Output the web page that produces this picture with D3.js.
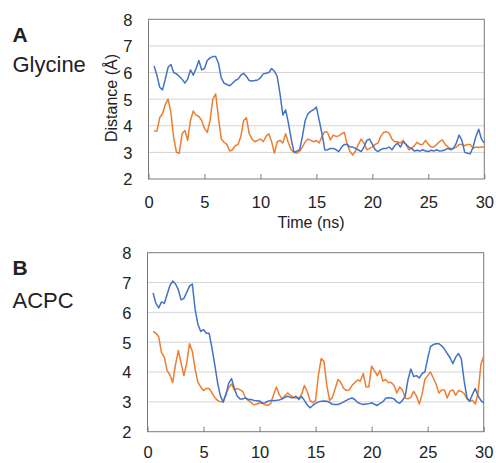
<!DOCTYPE html>
<html>
<head>
<meta charset="utf-8">
<script src="https://cdn.jsdelivr.net/npm/d3@7"></script>
<style>
  body { margin: 0; background: #fff; }
  svg { display: block; }
  text { font-family: "Liberation Sans", Arial, sans-serif; fill: #222; }
</style>
</head>
<body>
<div id="chart"></div>
<script>
// time axis, one sample every 0.25 ns
const timeNs = [0.5, 0.75,
  1, 1.25, 1.5, 1.75, 2, 2.25, 2.5, 2.75, 3, 3.25, 3.5, 3.75, 4, 4.25, 4.5, 4.75,
  5, 5.25, 5.5, 5.75, 6, 6.25, 6.5, 6.75, 7, 7.25, 7.5, 7.75, 8, 8.25, 8.5, 8.75,
  9, 9.25, 9.5, 9.75, 10, 10.25, 10.5, 10.75, 11, 11.25, 11.5, 11.75, 12, 12.25, 12.5, 12.75,
  13, 13.25, 13.5, 13.75, 14, 14.25, 14.5, 14.75, 15, 15.25, 15.5, 15.75, 16, 16.25, 16.5, 16.75,
  17, 17.25, 17.5, 17.75, 18, 18.25, 18.5, 18.75, 19, 19.25, 19.5, 19.75, 20, 20.25, 20.5, 20.75,
  21, 21.25, 21.5, 21.75, 22, 22.25, 22.5, 22.75, 23, 23.25, 23.5, 23.75, 24, 24.25, 24.5, 24.75,
  25, 25.25, 25.5, 25.75, 26, 26.25, 26.5, 26.75, 27, 27.25, 27.5, 27.75, 28, 28.25, 28.5, 28.75,
  29, 29.25, 29.5, 29.75, 30];

// panel A - glycine
const glycineBlue = [6.25, 5.9,
  5.45, 5.35, 5.75, 6.2,   6.3, 6.0, 5.95, 5.85,   5.75, 5.6, 5.75, 6.1,   5.9, 6.15, 6.45, 6.1,
  6.15, 6.45, 6.55, 6.6,   6.6, 6.35, 5.8, 5.6,    5.55, 5.5, 5.6, 5.7,    5.75, 5.9, 5.97, 5.85,
  5.7, 5.68, 5.7, 5.72,    5.8, 5.95, 5.97, 6.0,   6.15, 6.05, 5.85, 5.2,  4.4, 4.6, 4.1, 3.5,
  3.0, 3.05, 3.1, 3.6,     4.2, 4.45, 4.55, 4.6,   4.7, 4.2, 3.7, 3.09,    3.1, 3.15, 3.15, 3.1,
  3.03, 3.2, 3.3, 3.3,     3.2, 3.2, 3.15, 3.09,   3.03, 3.2, 3.45, 3.5,   3.3, 3.1, 3.03, 3.1,
  3.15, 3.15, 3.2, 3.1,    3.25, 3.35, 3.2, 3.4,   3.3, 3.2, 3.15, 3.05,   3.08, 3.05, 3.1, 3.05,
  3.03, 3.08, 3.05, 3.1,   3.05, 3.06, 3.1, 3.15,  3.1, 3.15, 3.35, 3.65,  3.45, 3.0, 2.97, 2.95,
  3.2, 3.6, 3.87, 3.5,     3.35];
const glycineOrange = [3.8, 3.8,
  4.3, 4.45, 4.8, 5.0,     4.5, 3.55, 3.0, 2.97,   3.7, 3.82, 3.45, 4.2,   4.55, 4.4, 4.35, 4.2,
  3.9, 3.75, 4.2, 5.0,     5.2, 4.3, 3.5, 3.38,    3.3, 3.05, 3.1, 3.25,   3.3, 3.6, 4.2, 4.3,
  3.7, 3.5, 3.4, 3.45,     3.5, 3.4, 3.6, 3.7,     3.4, 2.97, 3.4, 3.45,   3.35, 3.7, 3.35, 3.1,
  3.0, 2.97, 3.05, 3.2,    3.4, 3.5, 3.45, 3.4,    3.45, 3.35, 3.6, 3.78,  3.75, 3.47, 3.65, 3.6,
  3.62, 3.7, 3.75, 3.3,    3.03, 2.9, 3.05, 3.3,   3.5, 3.35, 3.1, 3.15,   3.2, 3.3, 3.35, 3.6,
  3.75, 3.78, 3.72, 3.5,   3.4, 3.4, 3.35, 3.45,   3.3, 3.1, 3.15, 3.25,   3.38, 3.3, 3.3, 3.45,
  3.3, 3.2, 3.2, 3.3,      3.4, 3.47, 3.3, 3.2,    3.15, 3.15, 3.2, 3.3,   3.3, 3.25, 3.3, 3.3,
  3.15, 3.2, 3.18, 3.2,    3.2];

// panel B - ACPC
const acpcBlue = [6.65, 6.3,
  6.15, 6.35, 6.3, 6.6,    6.9, 7.05, 6.95, 6.76,  6.42, 6.47, 6.67, 6.88, 6.95, 6.1, 5.6, 5.36,
  5.42, 5.3, 5.3, 4.8,     4.25, 3.65, 3.2, 2.99,  3.24, 3.63, 3.78, 3.45, 3.2, 3.1, 3.1, 3.13,
  3.08, 3.08, 3.05, 3.04,  3.03, 2.96, 2.97, 3.02, 3.05, 3.04, 3.05, 3.06, 3.1, 3.15, 3.19, 3.15,
  3.14, 3.19, 3.08, 3.18,  3.05, 2.9, 2.8, 2.88,   2.95, 3.0, 3.02, 3.03,  3.02, 2.98, 2.92, 2.91,
  2.91, 2.95, 3.0, 3.05,   3.1, 3.13, 3.08, 2.98,  2.94, 2.91, 2.93, 2.94, 2.97, 2.92, 2.88, 2.95,
  3.0, 3.12, 3.14, 3.13,   3.1, 3.0, 2.95, 3.05,   3.2, 3.75, 4.1, 3.85,   3.88, 3.8, 3.95, 4.0,
  4.45, 4.85, 4.92, 4.95,  4.95, 4.88, 4.77, 4.62, 4.48, 4.28, 4.5, 4.62, 4.45, 3.72, 3.15, 3.02,
  3.25, 3.45, 3.2, 3.05,   2.96];
const acpcOrange = [5.36, 5.3,
  5.18, 4.65, 4.5, 4.05,   3.9, 3.65, 4.25, 4.72,  4.3, 3.88, 4.3, 4.95,   4.7, 4.1, 3.65, 3.5,
  3.38, 3.45, 3.45, 3.3,   3.15, 3.05, 3.0, 3.0,   3.28, 3.47, 3.6, 3.4,   3.45, 3.4, 3.35, 3.13,
  3.05, 2.98, 2.9, 2.93,   2.97, 2.95, 2.9, 2.88,  2.95, 3.24, 3.5, 3.25,  3.1, 3.2, 3.3, 3.22,
  3.15, 3.13, 3.14, 3.25,  3.55, 3.35, 3.05, 2.97, 3.05, 3.9, 4.45, 4.35,  3.55, 3.05, 3.15, 3.45,
  3.75, 3.65, 3.45, 3.38,  3.4, 3.55, 3.65, 3.73,  3.7, 3.95, 3.5, 3.5,    4.2, 4.05, 3.88, 4.05,
  3.7, 3.75, 3.65, 3.65,   3.55, 3.3, 3.5, 3.4,    3.13, 3.1, 3.15, 3.35,  3.2, 2.93, 3.25, 3.75,
  3.88, 4.0, 3.8, 3.6,     3.3, 3.4, 3.4, 3.13,    3.36, 3.4, 3.22, 3.38,  3.35, 3.28, 3.1, 3.02,
  3.05, 2.93, 3.3, 4.25,   4.53];

const yTicks = [2, 3, 4, 5, 6, 7, 8];
const xTicks = [0, 5, 10, 15, 20, 25, 30];

const blueColor = "#4472c4";
const orangeColor = "#ed7d31";

const width = 496, height = 463;

const svg = d3.select("#chart")
    .append("svg")
    .attr("width", width)
    .attr("height", height);

const panels = [
    { letter: "A", name: "Glycine", blue: glycineBlue, orange: glycineOrange,
      left: 148.5, right: 484.3, top: 19.3, bottom: 179, letterY: 41.7, nameY: 71.7, xPad: 17.5, axisTitles: true },
    { letter: "B", name: "ACPC", blue: acpcBlue, orange: acpcOrange,
      left: 147.5, right: 483.7, top: 252.7, bottom: 431.7, letterY: 275, nameY: 308.3, xPad: 15, axisTitles: false }
];

function drawPanel(p) {
    const x = d3.scaleLinear().domain([0, 30]).range([p.left, p.right]);
    const y = d3.scaleLinear().domain([2, 8]).range([p.bottom, p.top]);
    const g = svg.append("g");

    // horizontal gridlines
    g.append("g")
        .selectAll("line")
        .data(yTicks.filter(v => v > 2 && v < 8))
        .join("line")
        .attr("x1", p.left)
        .attr("x2", p.right)
        .attr("y1", d => y(d))
        .attr("y2", d => y(d))
        .attr("stroke", "#d4d4d4")
        .attr("stroke-width", 1);

    // frame round the plot
    g.append("rect")
        .attr("x", p.left)
        .attr("y", p.top)
        .attr("width", p.right - p.left)
        .attr("height", p.bottom - p.top)
        .attr("fill", "none")
        .attr("stroke", "#7a7a7a")
        .attr("stroke-width", 1);

    // x axis, ticks point inward
    const xAxis = g.append("g")
        .attr("transform", "translate(0," + p.bottom + ")")
        .call(d3.axisBottom(x).tickValues(xTicks).tickFormat(d3.format("d"))
            .tickSizeInner(-5).tickSizeOuter(0).tickPadding(p.xPad));
    xAxis.select(".domain").remove();
    xAxis.selectAll("line").attr("stroke", "#7a7a7a");
    xAxis.selectAll("text")
        .attr("font-size", 16.5)
        .attr("font-family", "Liberation Sans, Arial, sans-serif")
        .attr("fill", "#262626");

    // y axis, labels only
    const yAxis = g.append("g")
        .attr("transform", "translate(" + p.left + ",0)")
        .call(d3.axisLeft(y).tickValues(yTicks).tickFormat(d3.format("d")).tickSize(0).tickPadding(16));
    yAxis.select(".domain").remove();
    yAxis.selectAll("text")
        .attr("font-size", 16.5)
        .attr("dy", "0.36em")
        .attr("font-family", "Liberation Sans, Arial, sans-serif")
        .attr("fill", "#262626");

    const line = d3.line()
        .x((d, i) => x(timeNs[i]))
        .y(d => y(d));

    g.append("path")
        .datum(p.orange)
        .attr("d", line)
        .attr("fill", "none")
        .attr("stroke", orangeColor)
        .attr("stroke-width", 1.5)
        .attr("stroke-linejoin", "round");

    g.append("path")
        .datum(p.blue)
        .attr("d", line)
        .attr("fill", "none")
        .attr("stroke", blueColor)
        .attr("stroke-width", 1.5)
        .attr("stroke-linejoin", "round");

    // panel letter and name
    g.append("text")
        .attr("x", 12.5)
        .attr("y", p.letterY)
        .attr("font-size", 21)
        .attr("font-weight", "bold")
        .text(p.letter);
    g.append("text")
        .attr("x", 12.5)
        .attr("y", p.nameY)
        .attr("font-size", 22)
        .text(p.name);

    if (p.axisTitles) {
        g.append("text")
            .attr("transform", "translate(117," + 98 + ") rotate(-90)")
            .attr("text-anchor", "middle")
            .attr("font-size", 16)
            .text("Distance (Å)");
        g.append("text")
            .attr("x", 311)
            .attr("y", 228)
            .attr("text-anchor", "middle")
            .attr("font-size", 16)
            .text("Time (ns)");
    }
}

panels.forEach(drawPanel);
</script>
</body>
</html>
